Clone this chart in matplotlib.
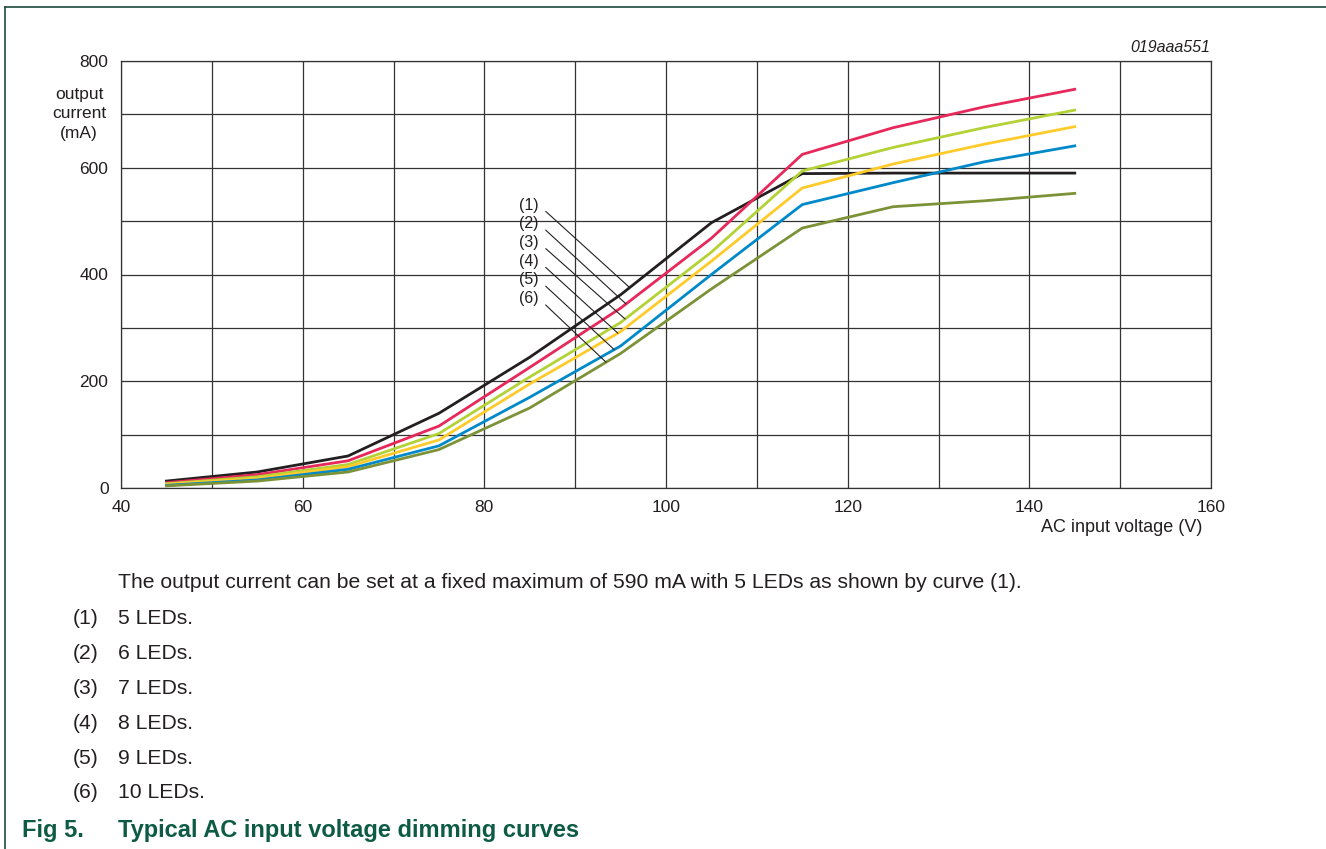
import numpy as np
import matplotlib
matplotlib.use("Agg")
import matplotlib.pyplot as plt
from matplotlib.lines import Line2D
from matplotlib.ticker import MultipleLocator

plt.rcParams['font.family'] = ['Liberation Sans', 'DejaVu Sans']

# ---- data ----
voltage = [45, 55, 65, 75, 85, 95, 105, 115, 125, 135, 145]
led5 = [13, 30, 60, 140, 245, 362, 497, 589, 590, 590, 590]
led6 = [10, 25, 51, 116, 226, 337, 468, 625, 675, 714, 747]
led7 = [8, 21, 44, 102, 208, 310, 442, 594, 638, 675, 708]
led8 = [7, 18, 40, 90, 195, 293, 425, 562, 607, 644, 677]
led9 = [5, 15, 35, 79, 170, 266, 400, 531, 572, 611, 641]
led10 = [4, 13, 30, 72, 150, 252, 373, 487, 527, 538, 552]
curve_labels = ["(1)", "(2)", "(3)", "(4)", "(5)", "(6)"]
legend_texts = ["5 LEDs.", "6 LEDs.", "7 LEDs.", "8 LEDs.", "9 LEDs.", "10 LEDs."]
x_ticks = [40, 60, 80, 100, 120, 140, 160]
y_ticks = [0, 200, 400, 600, 800]

series = [led5, led6, led7, led8, led9, led10]
colors = ['#231f20', '#e6285a', '#b3d235', '#ffcb2b', '#0089c9', '#7c9237']
# leader-line end voltages (where the label lines touch each curve)
leader_v = [96.0, 95.6, 95.5, 94.7, 94.3, 93.4]
label_pos_v = 86.0
label_pos_i = [530, 495, 460, 425, 390, 355]

W, H = 1326, 849
fig = plt.figure(figsize=(W / 100, H / 100), dpi=100)
ax = fig.add_axes([121 / W, 1 - 488 / H, (1211 - 121) / W, (488 - 61) / H])

for s, c in zip(series, colors):
    ax.plot(voltage, s, color=c, lw=2.0, solid_joinstyle='miter', zorder=3)

ax.set_xlim(40, 160)
ax.set_ylim(0, 800)
ax.xaxis.set_minor_locator(MultipleLocator(10))
ax.yaxis.set_minor_locator(MultipleLocator(100))
ax.set_xticks(x_ticks)
ax.set_yticks(y_ticks)
ax.grid(which='both', color='#333333', lw=0.9)
ax.tick_params(which='both', length=0, labelsize=12.5, colors='#231f20')
ax.tick_params(axis='x', pad=9)
ax.tick_params(axis='y', pad=9)
for sp in ax.spines.values():
    sp.set_color('#333333')
    sp.set_linewidth(0.9)

for lab, li, lv, s in zip(curve_labels, label_pos_i, leader_v, series):
    yend = np.interp(lv, voltage, s)
    ax.annotate(lab, xy=(lv, yend), xytext=(label_pos_v, li),
                ha='right', va='center', fontsize=11.5, color='#231f20',
                arrowprops=dict(arrowstyle='-', color='#231f20', lw=0.8,
                                relpos=(1, 0.5), shrinkA=4, shrinkB=0),
                zorder=4)

fig.text(79 / W, 1 - 114 / H, "output\ncurrent\n(mA)", ha='center', va='center',
         fontsize=12.5, linespacing=1.35, color='#231f20')
fig.text(1202 / W, 1 - 527 / H, "AC input voltage (V)", ha='right', va='center',
         fontsize=13, color='#231f20')
fig.text(1210 / W, 1 - 48 / H, "019aaa551", ha='right', va='center',
         fontsize=11.5, style='italic', color='#231f20')

fig.text(118 / W, 1 - 583 / H,
         "The output current can be set at a fixed maximum of 590 mA with 5 LEDs as shown by curve (1).",
         ha='left', va='center', fontsize=15.2, color='#231f20')
for k, (lab, txt) in enumerate(zip(curve_labels, legend_texts)):
    y = 1 - (619 + 34.8 * k) / H
    fig.text(73 / W, y, lab, ha='left', va='center', fontsize=15.2, color='#231f20')
    fig.text(118 / W, y, txt, ha='left', va='center', fontsize=15.2, color='#231f20')

green = '#0d5b45'
fig.text(22 / W, 1 - 831 / H, "Fig 5.", ha='left', va='center', fontsize=17,
         fontweight='bold', color=green)
fig.text(118 / W, 1 - 831 / H, "Typical AC input voltage dimming curves", ha='left',
         va='center', fontsize=17, fontweight='bold', color=green)

border = '#1b4a3c'
fig.add_artist(Line2D([5 / W, 5 / W], [0, 1 - 7 / H], transform=fig.transFigure,
                      color=border, lw=1.2))
fig.add_artist(Line2D([5 / W, 1], [1 - 7 / H, 1 - 7 / H], transform=fig.transFigure,
                      color=border, lw=1.2))

fig.savefig("out.png", dpi=100)
